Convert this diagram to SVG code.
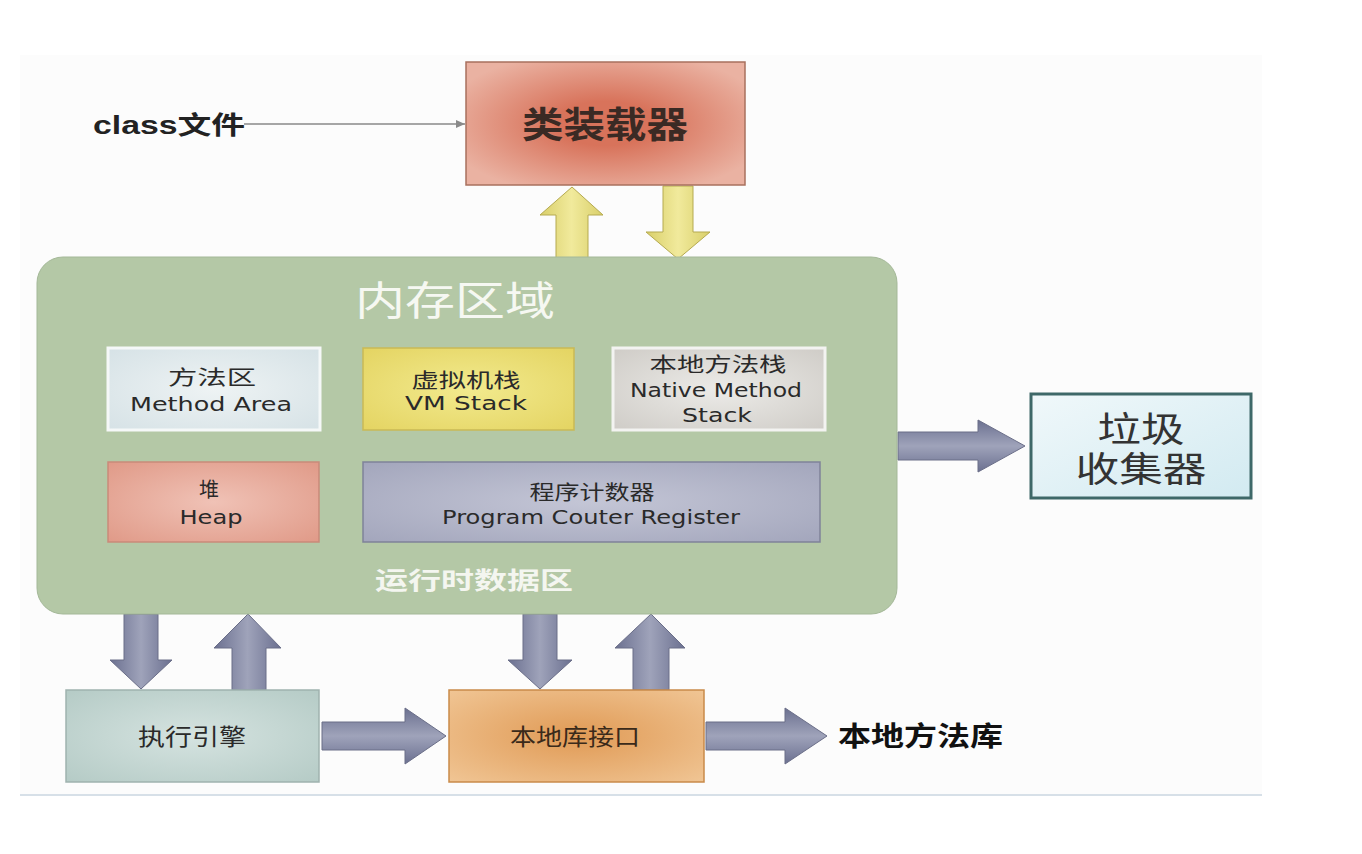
<svg xmlns="http://www.w3.org/2000/svg" width="1362" height="854" viewBox="0 0 1362 854">
<defs>
<style>
.cn{font-family:"Liberation Sans","Noto Sans CJK SC",sans-serif;}
.t{font-family:"DejaVu Sans","Noto Sans CJK SC",sans-serif;font-size:20px;fill:#2a2a2a;text-anchor:middle;}
.slate{stroke:#6a6e88;stroke-width:1;}
</style>
<radialGradient id="gLoader" cx="0.5" cy="0.5" r="0.6">
<stop offset="0.3" stop-color="#d8735b"/><stop offset="1" stop-color="#eab2a2"/>
</radialGradient>
<radialGradient id="gHeap" cx="0.5" cy="0.5" r="0.7">
<stop offset="0" stop-color="#f0c2b6"/><stop offset="1" stop-color="#e09a88"/>
</radialGradient>
<radialGradient id="gMethod" cx="0.5" cy="0.5" r="0.7">
<stop offset="0" stop-color="#eef3f4"/><stop offset="1" stop-color="#d6e2e6"/>
</radialGradient>
<radialGradient id="gVM" cx="0.5" cy="0.5" r="0.7">
<stop offset="0" stop-color="#f2ea8e"/><stop offset="1" stop-color="#e4d462"/>
</radialGradient>
<radialGradient id="gNative" cx="0.5" cy="0.5" r="0.7">
<stop offset="0" stop-color="#ecebe8"/><stop offset="1" stop-color="#cfccc7"/>
</radialGradient>
<radialGradient id="gPC" cx="0.5" cy="0.5" r="0.7">
<stop offset="0" stop-color="#c4c6d6"/><stop offset="1" stop-color="#a3a6bc"/>
</radialGradient>
<radialGradient id="gExec" cx="0.5" cy="0.5" r="0.7">
<stop offset="0" stop-color="#d5e3e0"/><stop offset="1" stop-color="#b5cbc6"/>
</radialGradient>
<radialGradient id="gLib" cx="0.5" cy="0.5" r="0.7">
<stop offset="0" stop-color="#e09a55"/><stop offset="1" stop-color="#f0c594"/>
</radialGradient>
<linearGradient id="gGC" x1="0" y1="0" x2="1" y2="1">
<stop offset="0" stop-color="#f0f8fa"/><stop offset="1" stop-color="#d2eaf1"/>
</linearGradient>
<linearGradient id="gSlateV" x1="0" y1="0" x2="1" y2="0">
<stop offset="0" stop-color="#6b7090"/><stop offset="0.5" stop-color="#9fa3ba"/><stop offset="1" stop-color="#6b7090"/>
</linearGradient>
<linearGradient id="gSlateH" x1="0" y1="0" x2="0" y2="1">
<stop offset="0" stop-color="#6b7090"/><stop offset="0.5" stop-color="#9fa3ba"/><stop offset="1" stop-color="#6b7090"/>
</linearGradient>
<linearGradient id="gYellow" x1="0" y1="0" x2="1" y2="0">
<stop offset="0" stop-color="#d9cf6a"/><stop offset="0.5" stop-color="#f1ea9c"/><stop offset="1" stop-color="#d9cf6a"/>
</linearGradient>
<marker id="mThin" markerWidth="10" markerHeight="10" refX="9" refY="5" orient="auto" markerUnits="userSpaceOnUse">
<path d="M0,1 L9,5 L0,9 Z" fill="#8a8a8a"/>
</marker>
</defs>

<rect x="0" y="0" width="1362" height="854" fill="#ffffff"/>
<rect x="20" y="55" width="1242" height="740" fill="#fcfcfc"/>
<line x1="20" y1="795" x2="1262" y2="795" stroke="#d7e0e8" stroke-width="2"/>

<g id="connectors">
<line x1="244" y1="124" x2="465" y2="124" stroke="#8a8a8a" stroke-width="1.3" marker-end="url(#mThin)"/>
<path d="M556,258 L556,215 L540,215 L572,187 L603,215 L588,215 L588,258 Z" fill="url(#gYellow)" stroke="#b5aa50" stroke-width="1"/>
<path d="M663,186 L693,186 L693,232 L710,232 L678,259 L646,232 L663,232 Z" fill="url(#gYellow)" stroke="#b5aa50" stroke-width="1"/>
<path d="M898,432 L978,432 L978,420 L1025,446 L978,472 L978,460 L898,460 Z" fill="url(#gSlateH)" class="slate"/>
<path d="M124,614 L158,614 L158,660 L172,660 L141,689 L110,660 L124,660 Z" fill="url(#gSlateV)" class="slate"/>
<path d="M232,690 L232,648 L214,648 L248,614 L281,648 L266,648 L266,690 Z" fill="url(#gSlateV)" class="slate"/>
<path d="M523,614 L557,614 L557,660 L572,660 L540,689 L508,660 L523,660 Z" fill="url(#gSlateV)" class="slate"/>
<path d="M633,690 L633,648 L615,648 L651,614 L685,648 L669,648 L669,690 Z" fill="url(#gSlateV)" class="slate"/>
<path d="M322,722 L405,722 L405,708 L446,736 L405,764 L405,750 L322,750 Z" fill="url(#gSlateH)" class="slate"/>
<path d="M706,722 L785,722 L785,708 L827,736 L785,764 L785,750 L706,750 Z" fill="url(#gSlateH)" class="slate"/>
</g>

<g id="class-file">
<text x="93" y="134" class="cn" font-size="25" font-weight="bold" fill="#222" textLength="152" lengthAdjust="spacingAndGlyphs">class文件</text>
</g>

<g id="class-loader">
<rect x="466" y="62" width="279" height="123" fill="url(#gLoader)" stroke="#a8705e" stroke-width="1.5"/>
<text x="605" y="138" class="cn" font-size="36" font-weight="bold" fill="#3a2a24" text-anchor="middle" textLength="166" lengthAdjust="spacingAndGlyphs">类装载器</text>
</g>

<g id="memory-area">
<rect x="37" y="257" width="860" height="357" rx="26" fill="#b4c8a6" stroke="#a4b898" stroke-width="1"/>
<text x="455" y="315" class="cn" font-size="40" fill="#f6f8f2" text-anchor="middle" textLength="200" lengthAdjust="spacingAndGlyphs">内存区域</text>
<text x="474" y="589" class="cn" font-size="24" font-weight="bold" fill="#f4f6f0" text-anchor="middle" textLength="198" lengthAdjust="spacingAndGlyphs">运行时数据区</text>
</g>

<g id="method-area">
<rect x="108" y="348" width="212" height="82" fill="url(#gMethod)" stroke="#f5f8f8" stroke-width="3"/>
<text x="212" y="385" class="t" font-size="23" textLength="88" lengthAdjust="spacingAndGlyphs">方法区</text>
<text x="211" y="411" class="t" textLength="162" lengthAdjust="spacingAndGlyphs">Method Area</text>
</g>

<g id="vm-stack">
<rect x="363" y="348" width="211" height="82" fill="url(#gVM)" stroke="#c9b955" stroke-width="1.5"/>
<text x="466" y="388" class="t" font-size="23" textLength="109" lengthAdjust="spacingAndGlyphs">虚拟机栈</text>
<text x="466" y="410" class="t" textLength="122" lengthAdjust="spacingAndGlyphs">VM Stack</text>
</g>

<g id="native-stack">
<rect x="613" y="348" width="212" height="82" fill="url(#gNative)" stroke="#f3f3f1" stroke-width="3"/>
<text x="718" y="372" class="t" font-size="23" textLength="137" lengthAdjust="spacingAndGlyphs">本地方法栈</text>
<text x="716" y="397" class="t" textLength="172" lengthAdjust="spacingAndGlyphs">Native Method</text>
<text x="717" y="422" class="t" textLength="70" lengthAdjust="spacingAndGlyphs">Stack</text>
</g>

<g id="heap">
<rect x="108" y="462" width="211" height="80" fill="url(#gHeap)" stroke="#c98a7a" stroke-width="1.5"/>
<text x="209" y="497" class="t" font-size="23">堆</text>
<text x="211" y="524" class="t" textLength="63" lengthAdjust="spacingAndGlyphs">Heap</text>
</g>

<g id="pc-register">
<rect x="363" y="462" width="457" height="80" fill="url(#gPC)" stroke="#7f8299" stroke-width="1.5"/>
<text x="592" y="500" class="t" font-size="23" textLength="125" lengthAdjust="spacingAndGlyphs">程序计数器</text>
<text x="591" y="524" class="t" textLength="298" lengthAdjust="spacingAndGlyphs">Program Couter Register</text>
</g>

<g id="gc">
<rect x="1031" y="394" width="220" height="104" fill="url(#gGC)" stroke="#3e6868" stroke-width="3"/>
<text x="1141" y="442" class="cn" font-size="35" fill="#333" text-anchor="middle" textLength="87" lengthAdjust="spacingAndGlyphs">垃圾</text>
<text x="1141" y="482" class="cn" font-size="35" fill="#333" text-anchor="middle" textLength="131" lengthAdjust="spacingAndGlyphs">收集器</text>
</g>

<g id="exec-engine">
<rect x="66" y="690" width="253" height="92" fill="url(#gExec)" stroke="#9fb2ae" stroke-width="1.5"/>
<text x="192" y="745" class="cn" font-size="23" fill="#2a2a2a" text-anchor="middle" textLength="108" lengthAdjust="spacingAndGlyphs">执行引擎</text>
</g>

<g id="native-interface">
<rect x="449" y="690" width="255" height="92" fill="url(#gLib)" stroke="#c98a4a" stroke-width="1.5"/>
<text x="575" y="745" class="cn" font-size="23" fill="#3a2a1a" text-anchor="middle" textLength="130" lengthAdjust="spacingAndGlyphs">本地库接口</text>
</g>

<g id="native-lib">
<text x="838" y="746" class="cn" font-size="27" font-weight="bold" fill="#111" textLength="165" lengthAdjust="spacingAndGlyphs">本地方法库</text>
</g>
</svg>
